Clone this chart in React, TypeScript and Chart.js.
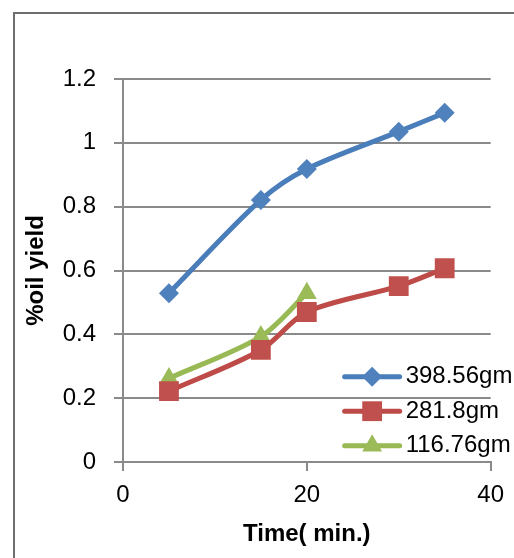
import React, { useEffect, useRef } from "react";
import { Chart, registerables } from "chart.js";

Chart.register(...registerables);

// ---- data ----
const timesMain = [5, 15, 20, 30, 35];
const timesShort = [5, 15, 20];
const yield39856 = [0.529, 0.821, 0.918, 1.035, 1.094];
const yield2818 = [0.222, 0.351, 0.47, 0.551, 0.607];
const yield11676 = [0.262, 0.393, 0.529];
const seriesLabels = ["398.56gm", "281.8gm", "116.76gm"];
const xTicks = [0, 20, 40];
const yTicks = [0, 0.2, 0.4, 0.6, 0.8, 1, 1.2];

const FONT = "'Liberation Sans', Arial, sans-serif";
const GRID = "#8a8a8a";

function drawMarker(ctx: CanvasRenderingContext2D, style: string, r: number, x: number, y: number) {
  ctx.beginPath();
  if (style === "rectRot") {
    ctx.moveTo(x, y - r);
    ctx.lineTo(x + r, y);
    ctx.lineTo(x, y + r);
    ctx.lineTo(x - r, y);
  } else if (style === "rect") {
    const s = r * Math.SQRT1_2;
    ctx.rect(x - s, y - s, 2 * s, 2 * s);
  } else {
    ctx.moveTo(x, y - r);
    ctx.lineTo(x + r * Math.sin(Math.PI / 3), y + r / 2);
    ctx.lineTo(x - r * Math.sin(Math.PI / 3), y + r / 2);
  }
  ctx.closePath();
  ctx.fill();
}

const insideLegend = {
  id: "insideLegend",
  afterDraw(chart: any) {
    const { ctx, chartArea } = chart;
    const lineLeft = chartArea.right - 146;
    const lineRight = chartArea.right - 91;
    const textX = chartArea.right - 85;
    const firstY = chartArea.bottom - 85.3;
    const rowH = 34.5;
    chart.data.datasets.forEach((ds: any, i: number) => {
      const y = firstY + i * rowH;
      ctx.save();
      ctx.strokeStyle = ds.borderColor;
      ctx.lineWidth = ds.borderWidth;
      ctx.lineCap = "round";
      ctx.beginPath();
      ctx.moveTo(lineLeft, y);
      ctx.lineTo(lineRight, y);
      ctx.stroke();
      ctx.fillStyle = ds.pointBackgroundColor;
      drawMarker(ctx, ds.pointStyle, ds.pointRadius, (lineLeft + lineRight) / 2, y);
      ctx.fillStyle = "#000";
      ctx.font = `24px ${FONT}`;
      ctx.textBaseline = "middle";
      ctx.textAlign = "left";
      ctx.fillText(ds.label, textX, y);
      ctx.restore();
    });
  },
};

export default function App() {
  const ref = useRef<HTMLCanvasElement | null>(null);

  useEffect(() => {
    if (!ref.current) return;
    const chart = new Chart(ref.current, {
      type: "line",
      data: {
        datasets: [
          {
            label: seriesLabels[0],
            data: timesMain.map((t, i) => ({ x: t, y: yield39856[i] })),
            borderColor: "#4a7ebb",
            backgroundColor: "#4f81bd",
            pointBackgroundColor: "#4f81bd",
            pointBorderWidth: 0,
            pointStyle: "rectRot",
            pointRadius: 10,
            borderWidth: 5,
            tension: 0.3,
          },
          {
            label: seriesLabels[1],
            data: timesMain.map((t, i) => ({ x: t, y: yield2818[i] })),
            borderColor: "#be4b48",
            backgroundColor: "#c0504d",
            pointBackgroundColor: "#c0504d",
            pointBorderWidth: 0,
            pointStyle: "rect",
            pointRadius: 14,
            borderWidth: 5,
            tension: 0.3,
          },
          {
            label: seriesLabels[2],
            data: timesShort.map((t, i) => ({ x: t, y: yield11676[i] })),
            borderColor: "#98b954",
            backgroundColor: "#9bbb59",
            pointBackgroundColor: "#9bbb59",
            pointBorderWidth: 0,
            pointStyle: "triangle",
            pointRadius: 11.5,
            borderWidth: 5,
            tension: 0.3,
          },
        ],
      },
      options: {
        responsive: false,
        animation: false,
        devicePixelRatio: 1,
        layout: { padding: { top: 79, right: 23, left: 0, bottom: 0 } },
        plugins: { legend: { display: false }, tooltip: { enabled: false } },
        scales: {
          x: {
            type: "linear",
            min: xTicks[0],
            max: xTicks[xTicks.length - 1],
            afterFit: (s: any) => {
              s.height = 96;
            },
            afterBuildTicks: (s: any) => {
              s.ticks = xTicks.map((v) => ({ value: v }));
            },
            ticks: {
              font: { family: FONT, size: 24 },
              color: "#000",
              padding: 10,
              maxRotation: 0,
            },
            grid: {
              drawOnChartArea: false,
              drawTicks: true,
              tickLength: 9,
              color: GRID,
              lineWidth: 2,
            },
            border: { display: true, color: GRID, width: 2 },
            title: {
              display: true,
              text: "Time( min.)",
              color: "#000",
              font: { family: FONT, size: 24, weight: "bold" },
              padding: { top: 0, bottom: 9 },
            },
          },
          y: {
            type: "linear",
            min: yTicks[0],
            max: yTicks[yTicks.length - 1],
            afterFit: (s: any) => {
              s.width = 123;
            },
            afterBuildTicks: (s: any) => {
              s.ticks = yTicks.map((v) => ({ value: v }));
            },
            ticks: {
              font: { family: FONT, size: 24 },
              color: "#000",
              padding: 18,
              callback: (v: any) => String(Number(Number(v).toFixed(1))),
            },
            grid: {
              drawOnChartArea: true,
              drawTicks: true,
              tickLength: 9,
              color: GRID,
              lineWidth: 2,
            },
            border: { display: true, color: GRID, width: 2 },
            title: {
              display: true,
              text: "%oil yield",
              color: "#000",
              font: { family: FONT, size: 24, weight: "bold" },
              padding: { top: 22, bottom: 0 },
            },
          },
        },
      },
      plugins: [insideLegend],
    });
    return () => chart.destroy();
  }, []);

  return (
    <div style={{ position: "fixed", left: 0, top: 0, width: 514, height: 558, background: "#fff" }}>
      <div
        style={{
          position: "absolute",
          left: 13,
          top: 12,
          width: 600,
          height: 600,
          borderLeft: "2px solid #6e6e6e",
          borderTop: "2px solid #6e6e6e",
        }}
      />
      <canvas
        ref={ref}
        width={514}
        height={558}
        style={{ position: "absolute", left: 0, top: 0, width: 514, height: 558 }}
      />
    </div>
  );
}
